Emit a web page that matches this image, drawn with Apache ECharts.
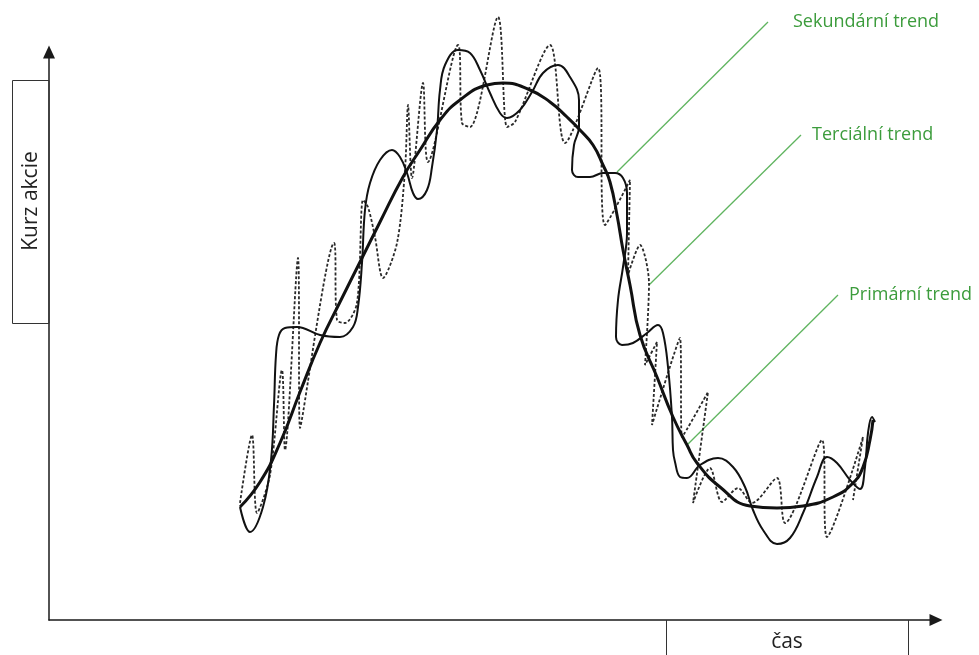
<!DOCTYPE html>
<html>
<head>
<meta charset="utf-8">
<script src="https://cdn.jsdelivr.net/npm/echarts@6/dist/echarts.min.js"></script>
<style>html,body{margin:0;padding:0;background:#fff}#c{width:979px;height:655px}</style>
</head>
<body>
<div id="c"></div>
<script>
// Primary trend (thick smooth curve): [time, price]
var primaryTrend = [
  [240,113],[260,138],[280,177],[300,228],[320,277],[340,318],[360,358],[380,398],[403,443],
  [420,470],[440,500],[460,520],[487,535],[503,537],[530,530],[550,518],[567,503],[580,490],
  [593,475],[603,455],[610,438],[617,405],[623,370],[630,335],[640,285],[657,243],[673,203],
  [687,175],[697,157],[720,133],[750,114],[777,112],[803,114],[833,123],[853,137],[863,153],
  [870,180],[873,200]
];
// Secondary trend (thin solid waves)
var secondaryTrend = [
  [240,113],[250,88],[263,113],[271,160],[274,215],[276,265],[279,285],[285,292],[297,293],
  [320,285],[340,283],[353,293],[358,313],[362,357],[365,410],[370,437],[380,460],[392,470],
  [400,463],[407,447],[413,427],[418,421],[427,430],[432,453],[437,490],[440,530],[445,555],
  [458,570],[470,567],[480,550],[490,527],[500,507],[507,502],[520,510],[532,528],[543,547],
  [558,555],[570,543],[579,520],[579,493],[574,475],[572,450],[578,443],[590,443],[603,447],
  [615,447],[623,442],[627,427],[627,387],[623,353],[618,320],[616,283],[622,275],[633,277],
  [647,287],[658,295],[663,287],[668,253],[672,203],[673,170],[675,158],[680,143],[687,142],
  [700,155],[718,162],[733,153],[745,133],[753,110],[763,90],[777,76],[790,82],[803,107],
  [817,143],[827,163],[837,157],[850,140],[860,131],[865,153],[868,187],[872,203],[875,198]
];
// Tertiary trend (dotted short swings)
var tertiaryTrend = [
  [240,117],[252,185],[257,107],[270,145],[282,250],[285,170],[298,362],[300,192],[334,377],
  [337,300],[345,297],[357,317],[363,420],[368,413],[375,383],[383,342],[397,377],[405,450],
  [408,515],[412,442],[423,537],[428,458],[458,575],[462,497],[470,493],[498,603],[507,493],
  [515,498],[550,575],[565,477],[598,552],[605,395],[630,440],[628,345],[640,375],[649,337],
  [645,255],[657,278],[652,195],[680,282],[682,183],[708,228],[693,117],[710,152],[722,118],
  [738,132],[752,117],[777,142],[785,97],[822,180],[827,83],[863,183],[853,120]
];
// Leader lines for the annotations
var leaderSecondary = [[617,448],[768,598]];
var leaderTertiary = [[649,335],[801,485]];
var leaderPrimary = [[687,175],[838,325]];
var labelNames = ['Sekundární trend','Terciální trend','Primární trend'];
var axisNames = ['čas','Kurz akcie'];

var GREEN_TEXT = '#3c9c3c';
var GREEN_LINE = '#5fb45f';
var FONT = '"Open Sans", "Noto Sans", sans-serif';

function leader(name, data, dist) {
  return {
    type: 'line', name: name, data: data, symbol: 'none', clip: false, silent: true,
    lineStyle: { color: GREEN_LINE, width: 1.3 },
    endLabel: { show: true, formatter: '{a}', distance: dist, color: GREEN_TEXT,
      fontFamily: FONT, fontSize: 18, align: 'left', verticalAlign: 'middle' },
    z: 1
  };
}

var chart = echarts.init(document.getElementById('c'), null, { renderer: 'canvas' });
chart.setOption({
  animation: false,
  backgroundColor: '#fff',
  grid: { left: 49, right: 43, top: 52, bottom: 35, containLabel: false },
  xAxis: {
    type: 'value', min: 49, max: 936,
    axisLine: { show: true, onZero: false, symbol: ['none', 'triangle'], symbolSize: [12, 13],
      lineStyle: { color: '#1a1a1a', width: 1.5 } },
    axisTick: { show: false }, axisLabel: { show: false }, splitLine: { show: false }
  },
  yAxis: {
    type: 'value', min: 0, max: 568,
    axisLine: { show: true, onZero: false, symbol: ['none', 'triangle'], symbolSize: [12, 13],
      lineStyle: { color: '#1a1a1a', width: 1.5 } },
    axisTick: { show: false }, axisLabel: { show: false }, splitLine: { show: false }
  },
  series: [
    leader(labelNames[0], leaderSecondary, 25),
    leader(labelNames[1], leaderTertiary, 11),
    leader(labelNames[2], leaderPrimary, 11),
    { type: 'line', name: 'tertiary', data: tertiaryTrend, symbol: 'none', clip: false, smooth: 0.3,
      lineStyle: { color: '#2a2a2a', width: 1.8, type: [3, 2] }, z: 2 },
    { type: 'line', name: 'secondary', data: secondaryTrend, symbol: 'none', clip: false, smooth: 0.4,
      lineStyle: { color: '#111', width: 2 }, z: 3 },
    { type: 'line', name: 'primary', data: primaryTrend, symbol: 'none', clip: false, smooth: 0.5,
      lineStyle: { color: '#111', width: 3 }, z: 4 }
  ],
  graphic: [
    { type: 'rect', shape: { x: 12.5, y: 80.5, width: 36.5, height: 243 },
      style: { fill: 'none', stroke: '#333', lineWidth: 1 }, z: 10 },
    { type: 'text', x: 31, y: 201, rotation: Math.PI / 2,
      style: { text: axisNames[1], x: 0, y: 0, textAlign: 'center', textVerticalAlign: 'middle',
        fill: '#222', font: '21px ' + FONT }, z: 10 },
    { type: 'polyline', shape: { points: [[666.5, 655], [666.5, 620]] },
      style: { stroke: '#333', lineWidth: 1 }, z: 10 },
    { type: 'polyline', shape: { points: [[908.5, 655], [908.5, 620]] },
      style: { stroke: '#333', lineWidth: 1 }, z: 10 },
    { type: 'text', x: 787, y: 642,
      style: { text: axisNames[0], x: 0, y: 0, textAlign: 'center', textVerticalAlign: 'middle',
        fill: '#222', font: '21px ' + FONT }, z: 10 }
  ]
});
</script>
</body>
</html>
